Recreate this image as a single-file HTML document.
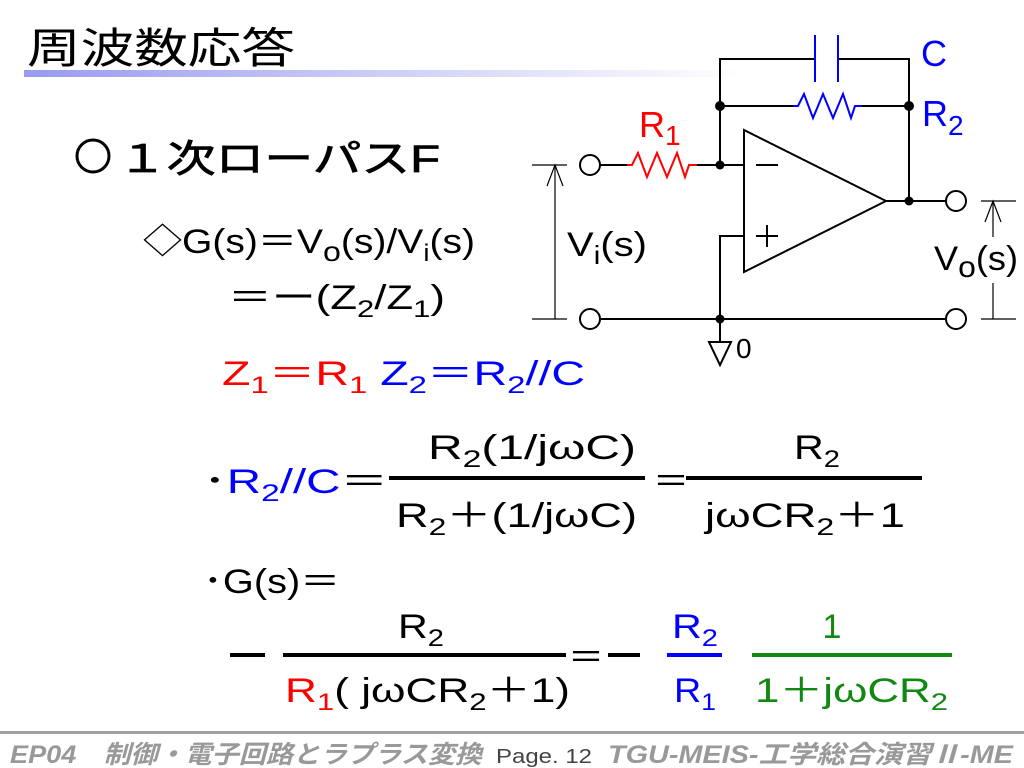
<!DOCTYPE html>
<html><head><meta charset="utf-8"><style>
html,body{margin:0;padding:0;background:#fff;}
svg{display:block;}
text{font-family:"Liberation Sans","Noto Sans CJK JP",sans-serif;}
</style></head><body>
<svg width="1024" height="768" viewBox="0 0 1024 768" xmlns="http://www.w3.org/2000/svg">
<defs>
<linearGradient id="g" x1="0" x2="1" y1="0" y2="0">
<stop offset="0" stop-color="#9a9af0"/><stop offset="0.6" stop-color="#d8d8f8"/><stop offset="1" stop-color="#ffffff"/>
</linearGradient>
</defs>
<rect x="24" y="70" width="720" height="7" fill="url(#g)"/>
<text x="27" y="63" font-size="42" textLength="268" lengthAdjust="spacingAndGlyphs">周波数応答</text>

<circle cx="93" cy="156" r="16" fill="none" stroke="#000" stroke-width="3"/>
<text x="118" y="172" font-size="38" stroke="#000" stroke-width="0.8" textLength="322" lengthAdjust="spacingAndGlyphs">１次ローパスF</text>

<g font-size="34">
<text x="143" y="253" textLength="332" lengthAdjust="spacingAndGlyphs">◇G(s)＝V<tspan font-size="28" dy="8">o</tspan><tspan dy="-8">(s)/V</tspan><tspan font-size="24" dy="8">i</tspan><tspan dy="-8">(s)</tspan></text>
<text x="228" y="309" textLength="217" lengthAdjust="spacingAndGlyphs">＝ー(Z<tspan font-size="24" dy="8">2</tspan><tspan dy="-8">/Z</tspan><tspan font-size="24" dy="8">1</tspan><tspan dy="-8">)</tspan></text>
<text x="222" y="385" textLength="363" lengthAdjust="spacingAndGlyphs"><tspan fill="#ff0000">Z<tspan font-size="24" dy="8">1</tspan><tspan dy="-8">＝R</tspan><tspan font-size="24" dy="8">1</tspan></tspan><tspan fill="#0000ff" dy="-8">  Z<tspan font-size="24" dy="8">2</tspan><tspan dy="-8">＝R</tspan><tspan font-size="24" dy="8">2</tspan><tspan dy="-8">//C</tspan></tspan></text>

<text x="203" y="493" textLength="185" lengthAdjust="spacingAndGlyphs">･<tspan fill="#0000ff">R<tspan font-size="24" dy="8">2</tspan><tspan dy="-8">//C</tspan></tspan>＝</text>
<rect x="389" y="476" width="256" height="4" fill="#000"/>
<text x="428" y="459" textLength="208" lengthAdjust="spacingAndGlyphs">R<tspan font-size="24" dy="8">2</tspan><tspan dy="-8">(1/jωC)</tspan></text>
<text x="396" y="527" textLength="241" lengthAdjust="spacingAndGlyphs">R<tspan font-size="24" dy="8">2</tspan><tspan dy="-8">＋(1/jωC)</tspan></text>
<text x="653" y="493" textLength="36" lengthAdjust="spacingAndGlyphs">＝</text>
<rect x="686" y="476" width="236" height="4" fill="#000"/>
<text x="794" y="459" textLength="46" lengthAdjust="spacingAndGlyphs">R<tspan font-size="24" dy="8">2</tspan></text>
<text x="705" y="527" textLength="200" lengthAdjust="spacingAndGlyphs">jωCR<tspan font-size="24" dy="8">2</tspan><tspan dy="-8">＋1</tspan></text>

<text x="203" y="593" textLength="137" lengthAdjust="spacingAndGlyphs">･G(s)＝</text>
<rect x="230" y="653" width="35" height="4" fill="#000"/>
<rect x="283" y="653" width="283" height="4" fill="#000"/>
<text x="398" y="638" textLength="46" lengthAdjust="spacingAndGlyphs">R<tspan font-size="24" dy="8">2</tspan></text>
<text x="285" y="702" textLength="285" lengthAdjust="spacingAndGlyphs"><tspan fill="#ff0000">R<tspan font-size="24" dy="8">1</tspan></tspan><tspan dy="-8">( jωCR</tspan><tspan font-size="24" dy="8">2</tspan><tspan dy="-8">＋1)</tspan></text>
<text x="568" y="669" textLength="36" lengthAdjust="spacingAndGlyphs">＝</text>
<rect x="608" y="653" width="32" height="4" fill="#000"/>
<rect x="667" y="653" width="55" height="4" fill="#0000ff"/>
<text x="672" y="638" fill="#0000ff" textLength="46" lengthAdjust="spacingAndGlyphs">R<tspan font-size="24" dy="8">2</tspan></text>
<text x="674" y="702" fill="#0000ff" textLength="42" lengthAdjust="spacingAndGlyphs">R<tspan font-size="24" dy="8">1</tspan></text>
<rect x="752" y="653" width="200" height="4" fill="#118811"/>
<text x="832" y="638" text-anchor="middle" fill="#118811">1</text>
<text x="755" y="702" fill="#118811" textLength="193" lengthAdjust="spacingAndGlyphs">1＋jωCR<tspan font-size="24" dy="8">2</tspan></text>
</g>

<g fill="none" stroke="#000" stroke-width="2">
<polyline points="720,165 720,59 815,59"/>
<polyline points="838,59 909,59 909,201"/>
<line x1="720" y1="106" x2="793" y2="106"/>
<line x1="862" y1="106" x2="909" y2="106"/>
<line x1="600" y1="165" x2="627" y2="165"/>
<line x1="697" y1="165" x2="744" y2="165"/>
<polygon points="744,130 744,272 886,201"/>
<line x1="886" y1="201" x2="946" y2="201"/>
<polyline points="744,236 720,236 720,342"/>
<line x1="600" y1="319" x2="946" y2="319"/>
<polygon points="709,342 731,342 720,365"/>
<circle cx="590" cy="165" r="10" fill="#fff"/>
<circle cx="590" cy="319" r="10" fill="#fff"/>
<circle cx="956" cy="201" r="10" fill="#fff"/>
<circle cx="956" cy="319" r="10" fill="#fff"/>
<line x1="756" y1="165" x2="778" y2="165"/>
<line x1="756" y1="236" x2="778" y2="236"/>
<line x1="767" y1="225" x2="767" y2="247"/>
</g>
<g stroke="#000" stroke-width="1.2" fill="none">
<line x1="532" y1="165" x2="567" y2="165"/>
<line x1="532" y1="319" x2="567" y2="319"/>
<line x1="555" y1="165" x2="555" y2="319"/>
<polyline points="547,186 555,165 563,186"/>
<line x1="981" y1="201" x2="1016" y2="201"/>
<line x1="981" y1="319" x2="1016" y2="319"/>
<line x1="993" y1="201" x2="993" y2="237"/>
<line x1="993" y1="283" x2="993" y2="319"/>
<polyline points="985,222 993,201 1001,222"/>
</g>
<g fill="#000">
<circle cx="720" cy="106" r="5"/><circle cx="909" cy="106" r="5"/>
<circle cx="720" cy="165" r="4.5"/><circle cx="909" cy="201" r="4.5"/>
<circle cx="720" cy="319" r="4.5"/>
</g>
<g stroke="#0000ff" stroke-width="2" fill="none">
<line x1="815" y1="35" x2="815" y2="82"/>
<line x1="838" y1="35" x2="838" y2="82"/>
<polyline points="793,106 798,106 804,94 813,118 823,94 833,118 843,94 851,118 855,106 862,106"/>
</g>
<polyline stroke="#ff0000" stroke-width="2" fill="none" points="627,165 632,165 638,153 647,177 657,153 667,177 677,153 685,177 689,165 697,165"/>
<g font-size="34">
<text x="921" y="66" fill="#0000ff" font-size="36">C</text>
<text x="922" y="126" fill="#0000ff" font-size="36">R<tspan font-size="28" dy="9">2</tspan></text>
<text x="639" y="137" fill="#ff0000" font-size="36">R<tspan font-size="28" dy="8">1</tspan></text>
<text x="567" y="256" textLength="80" lengthAdjust="spacingAndGlyphs">V<tspan font-size="26" dy="8">i</tspan><tspan dy="-8">(s)</tspan></text>
<text x="934" y="270" textLength="84" lengthAdjust="spacingAndGlyphs">V<tspan font-size="30" dy="7">o</tspan><tspan dy="-7">(s)</tspan></text>
<text x="736" y="358" font-size="28">0</text>
</g>

<rect x="0" y="731" width="1024" height="3" fill="#a0a0a0"/>
<text x="10" y="763" font-size="25" font-weight="bold" font-style="italic" fill="#999" textLength="472" lengthAdjust="spacingAndGlyphs">EP04　制御・電子回路とラプラス変換</text>
<text x="496" y="763" font-size="20" fill="#444" textLength="96" lengthAdjust="spacingAndGlyphs">Page. 12</text>
<text x="608" y="763" font-size="25" font-weight="bold" font-style="italic" fill="#999" textLength="405" lengthAdjust="spacingAndGlyphs">TGU-MEIS-工学総合演習Ⅱ-ME</text>
</svg>
</body></html>
